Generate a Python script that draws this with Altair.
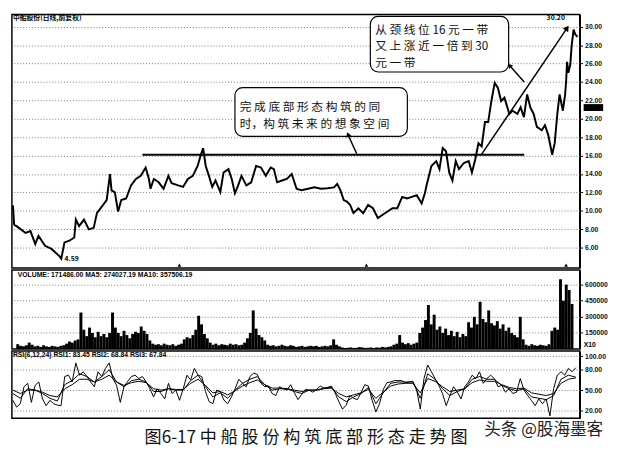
import altair as alt
import pandas as pd

# ---------------- price (day index ~ bar number) ----------------
price_day = [0, 1.3, 6.3, 13, 18, 23, 26.3, 33, 39.7, 48, 49.7, 53, 58, 63, 64.7, 68, 73, 78, 83,
             86.3, 91.3, 96.3, 99.7, 101.3, 104.7, 108, 111.3, 116.3, 121.3, 126.3, 131.3, 136.3,
             139.7, 141.3, 144.7, 149.7, 154.7, 159.7, 163, 169.7, 174.7, 179.7, 184.7, 189.7, 193,
             195.3, 198, 201.3, 204.7, 208, 213, 216.3, 221.3, 224.7, 228, 231.3, 234.7, 239.7,
             244.7, 249.7, 254.7, 259.7, 264.7, 268, 271.3, 276.3, 281.3, 286.3, 291.3, 296.3,
             303, 309.7, 316.3, 323, 329.7, 333, 336.3, 339.7, 343, 346.3, 349.7, 354.7, 359.7,
             364.7, 369.7, 374.7, 379.7, 384.7, 389.7, 394.7, 399.7, 404.7, 409.7, 414.7, 419.7,
             423, 424.7, 429.7, 434.7, 438, 441.3, 444.7, 448, 451.3, 454.7, 458, 463, 468, 471.3,
             474.7, 478, 481.3, 484.7, 488, 491.3, 494.7, 498, 501.3, 504.7, 509.7, 513, 518,
             521.3, 524.7, 528, 531.3, 534.7, 538, 543, 546.3, 549.7, 553.7, 556.3, 559, 561.3,
             564.7, 567, 568, 569, 570.3, 572.3, 573.7, 575.7, 577.3, 579.7]
price_close = [10.6, 8.5, 8.15, 7.6, 7.8, 6.4, 7.27, 6.2, 5.86, 5.05, 4.8, 6.57, 6.75, 7.1, 9.05,
               8.33, 9.05, 7.98, 8.15, 9.75, 10.45, 11.17, 14.0, 12.23, 12.0, 9.93, 11.17, 11.34,
               12.76, 13.46, 13.8, 14.7, 13.46, 12.4, 13.46, 13.1, 12.4, 13.8, 13.0, 12.76, 12.6,
               13.46, 13.8, 14.88, 16.1, 16.8, 14.88, 13.8, 12.6, 13.3, 12.05, 14.17, 14.53,
               13.46, 11.9, 12.76, 13.8, 12.76, 13.1, 14.88, 14.7, 13.8, 14.7, 14.53, 13.1, 13.3,
               13.46, 14.0, 12.4, 12.23, 12.4, 12.55, 12.4, 12.45, 12.55, 12.93, 12.23, 11.17,
               11.0, 10.64, 9.75, 10.28, 9.75, 10.64, 10.28, 9.22, 9.58, 9.93, 10.28, 10.28, 11.52,
               11.34, 11.52, 11.7, 10.81, 11.9, 12.76, 14.88, 15.4, 14.53, 16.82, 16.47, 14.17,
               13.28, 15.4, 14.53, 15.2, 15.4, 14.17, 15.58, 17.35, 17.0, 19.65, 19.65, 21.94,
               23.9, 23.36, 21.94, 22.3, 20.53, 20.88, 20.53, 21.24, 20.18, 22.65, 21.24, 20.53,
               19.12, 18.76, 19.3, 18.23, 16.1, 17.35, 20.53, 22.65, 20.88, 22.65, 24.0, 26.2,
               25.0, 25.9, 27.95, 29.7, 29.2, 28.9]

# ---------------- volume (thousands of shares, one bar per 3 trading days) ----------------
vol_k = [45, 30, 25, 35, 60, 40, 25, 30, 20, 35,
         25, 20, 30, 25, 20, 30, 35, 50, 70, 60,
         80, 90, 340, 180, 120, 200, 150, 110, 160, 120,
         140, 110, 150, 340, 200, 150, 120, 170, 130, 100,
         140, 160, 150, 210, 170, 140, 80, 50, 40, 45,
         35, 50, 40, 35, 45, 30, 40, 50, 90, 110,
         100, 130, 180, 310, 230, 140, 100, 60, 40, 50,
         35, 45, 40, 35, 50, 40, 45, 35, 40, 60,
         100, 150, 360, 190, 130, 110, 80, 40, 30, 35,
         25, 30, 40, 30, 25, 35, 30, 20, 25, 30,
         20, 25, 30, 25, 30, 20, 25, 30, 25, 35,
         90, 40, 25, 15, 10, 12, 15, 10, 12, 18,
         15, 10, 12, 15, 10, 15, 12, 20, 15, 20,
         25, 40, 50, 130, 60, 45, 55, 40, 50, 60,
         150, 200, 270, 410, 230, 320, 180, 210, 150, 190,
         130, 170, 120, 160, 110, 140, 120, 250, 200, 300,
         230, 440, 280, 250, 360, 240, 220, 260, 190, 230,
         170, 200, 150, 130, 110, 300, 90, 40, 30, 45,
         35, 30, 40, 35, 30, 45, 170, 200, 180, 650,
         450, 600, 550, 420]
vol_day = [3 * i for i in range(len(vol_k))]
vol_value = [v * 1000 for v in vol_k]

# ---------------- RSI (RSI1 read every ~3.8 days, RSI2/RSI3 every ~7.6 days) ----------------
rsi1 = [35, 25, 30, 55, 60, 32, 57, 62, 37, 27, 35, 30, 28, 27, 70, 72, 62, 90, 72, 77,
        70, 62, 55, 77, 70, 82, 90, 67, 57, 32, 55, 63, 70, 72, 67, 70, 62, 52, 40, 52,
        45, 37, 60, 45, 50, 35, 52, 72, 65, 82, 72, 70, 48, 33, 30, 50, 48, 35, 30, 40,
        52, 66, 60, 55, 70, 75, 73, 60, 55, 56, 45, 42, 55, 52, 50, 58, 46, 36, 44, 51,
        50, 47, 51, 56, 53, 54, 56, 46, 33, 22, 28, 42, 38, 36, 46, 58, 56, 35, 18, 30,
        51, 61, 62, 64, 64, 64, 61, 62, 63, 51, 22, 67, 87, 77, 67, 57, 45, 27, 42, 55,
        47, 37, 55, 62, 72, 67, 77, 60, 67, 72, 67, 55, 57, 47, 52, 45, 47, 67, 50, 42,
        35, 27, 37, 30, 37, 12, 52, 72, 77, 72, 82, 77, 83]
rsi2 = [45, 38, 52, 50, 45, 38, 34, 58, 64, 74, 70, 62, 70, 80, 62, 55, 64, 66, 62, 48,
        48, 52, 50, 50, 64, 72, 55, 40, 46, 38, 50, 60, 66, 70, 58, 50, 52, 52, 48, 45,
        50, 50, 53, 54, 40, 33, 40, 45, 54, 30, 46, 60, 62, 62, 62, 38, 74, 66, 52, 42,
        48, 52, 66, 70, 66, 66, 57, 52, 49, 52, 40, 38, 36, 42, 66, 72, 69]
rsi3 = [50, 45, 50, 50, 47, 42, 40, 52, 58, 66, 66, 62, 66, 72, 62, 57, 61, 63, 61, 52,
        50, 52, 51, 51, 60, 66, 57, 46, 48, 43, 49, 56, 61, 65, 58, 53, 53, 52, 50, 48,
        50, 50, 52, 53, 45, 40, 43, 46, 51, 38, 47, 56, 59, 60, 60, 46, 67, 63, 55, 48,
        50, 52, 61, 65, 63, 63, 58, 54, 52, 53, 46, 44, 42, 45, 60, 66, 68]
rsi1_day = [i * 578 / (len(rsi1) - 1) for i in range(len(rsi1))]
rsi2_day = [i * 578 / (len(rsi2) - 1) for i in range(len(rsi2))]
rsi3_day = [i * 578 / (len(rsi3) - 1) for i in range(len(rsi3))]

price_ticks = [6, 8, 10, 12, 14, 16, 18, 20, 22, 24, 26, 28, 30]
vol_ticks = [150000, 300000, 450000, 600000]
rsi_ticks = [20, 50, 80, 100]

# annotation content
note1_lines = ["完 成 底 部 形 态 构 筑 的 同", "时，构 筑 未 来 的 想 象 空 间"]
note2_lines = ["从 颈 线 位 16 元 一 带", "又 上 涨 近 一 倍 到 30", "元 一 带"]
caption = "图6-17   中 船 股 份 构 筑 底 部 形 态 走 势 图"
watermark = "头条 @股海墨客"

W = 582
XDOM = [-1, 582]
xs = alt.Scale(domain=XDOM, nice=False, zero=False)
FONT = "Noto Sans CJK SC"

price_df = pd.DataFrame({"day": price_day, "close": price_close})
vol_df = pd.DataFrame({"day": vol_day, "vol": vol_value})
rsi_df = pd.DataFrame({"day": rsi1_day + rsi2_day + rsi3_day, "rsi": rsi1 + rsi2 + rsi3,
                       "s": ["1"] * len(rsi1) + ["2"] * len(rsi2) + ["3"] * len(rsi3)})

def yaxis(vals, fmt):
    return alt.Axis(orient="right", values=vals, format=fmt, title=None, labelFontSize=7,
                    labelFontWeight="bold", labelFont="Arial", labelColor="#111", grid=True,
                    gridDash=[1, 2], gridColor="#777", gridWidth=1, domainColor="#000",
                    domainWidth=1.5, tickSize=3, tickColor="#000", labelPadding=2,
                    labelOverlap=False, labelFlush=False, labelBound=False)

AX_P = yaxis(price_ticks, ".2f")
AX_V = yaxis(vol_ticks, "d")
AX_R = yaxis(rsi_ticks, ".2f")

def X(f):
    return alt.X(f, type="quantitative", scale=xs, axis=None)

def Y(f, sc, ax):
    return alt.Y(f, type="quantitative", scale=sc, axis=ax)

# ---------- main panel ----------
ys = alt.Scale(domain=[3.78, 31.35], nice=False, zero=False)
pline = alt.Chart(price_df).mark_line(color="#000", strokeWidth=2).encode(
    x=X("day"), y=Y("close", ys, AX_P))

neck = alt.Chart(pd.DataFrame({"x": [133], "x2": [525], "y": [16.1]})).mark_rule(
    color="#000", strokeWidth=2).encode(x=X("x"), x2="x2", y=Y("y", ys, AX_P))

trend = alt.Chart(pd.DataFrame({"x": [481], "x2": [569], "y": [16.1], "y2": [29.86]})).mark_rule(
    color="#000", strokeWidth=1.5).encode(x=X("x"), x2="x2", y=Y("y", ys, AX_P), y2="y2")
trend_head = alt.Chart(pd.DataFrame({"x": [569], "y": [29.86]})).mark_point(
    shape="triangle-up", filled=True, color="#000", size=45, angle=34, opacity=1).encode(
    x=X("x"), y=Y("y", ys, AX_P))

boxes = alt.Chart(pd.DataFrame({"x": [228, 367], "x2": [405, 509], "y": [23.39, 31.13],
                                "y2": [18.09, 25.09]})).mark_rect(
    fill="white", stroke="#000", strokeWidth=1.2, cornerRadius=8).encode(
    x=X("x"), x2="x2", y=Y("y", ys, AX_P), y2="y2")

arrows = alt.Chart(pd.DataFrame({"x": [353, 525], "x2": [344, 510], "y": [16.2, 24.0],
                                 "y2": [18.3, 25.8]})).mark_rule(
    color="#000", strokeWidth=1.5).encode(x=X("x"), x2="x2", y=Y("y", ys, AX_P), y2="y2")
arrow_heads = alt.Chart(pd.DataFrame({"x": [344, 510], "y": [18.3, 25.8], "a": [337, 318]})).mark_point(
    shape="triangle-up", filled=True, color="#000", size=30, opacity=1).encode(
    x=X("x"), y=Y("y", ys, AX_P), angle=alt.Angle("a:Q", scale=None))

n1 = alt.Chart(pd.DataFrame({"x": [233, 233], "y": [21.3, 19.45], "t": note1_lines})).mark_text(
    align="left", baseline="middle", font=FONT, fontSize=12, color="#111").encode(
    x=X("x"), y=Y("y", ys, AX_P), text="t:N")
n2 = alt.Chart(pd.DataFrame({"x": [372, 372, 372], "y": [29.65, 27.85, 26.05], "t": note2_lines})).mark_text(
    align="left", baseline="middle", font=FONT, fontSize=12, color="#111").encode(
    x=X("x"), y=Y("y", ys, AX_P), text="t:N")

labels = alt.Chart(pd.DataFrame({"x": [0, 53, 548], "y": [30.95, 4.75, 30.95],
                                 "t": ["中船股份(日线,前复权)", "4.59", "30.20"]})).mark_text(
    align="left", baseline="middle", font=FONT, fontSize=7, fontWeight="bold", color="#000").encode(
    x=X("x"), y=Y("y", ys, AX_P), text="t:N")

marks = alt.Chart(pd.DataFrame({"x": [171, 363, 568], "y": [4.1, 4.1, 4.1]})).mark_point(
    shape="triangle-up", filled=True, color="#000", size=14, opacity=1).encode(
    x=X("x"), y=Y("y", ys, AX_P))

cur_box = alt.Chart(pd.DataFrame({"y": [21.6], "y2": [20.85]})).mark_rect(color="#000").encode(
    x=alt.value(W + 4), x2=alt.value(W + 24), y=Y("y", ys, AX_P), y2="y2")

main = alt.layer(pline, neck, trend, trend_head, boxes, arrows, arrow_heads, n1, n2, labels,
                 marks, cur_box).properties(width=W, height=260)

# ---------- volume panel ----------
vs = alt.Scale(domain=[0, 736000], nice=False, zero=False)
vbars = alt.Chart(vol_df).mark_bar(color="#000", size=3).encode(
    x=X("day"), y=Y("vol", vs, AX_V))
vtext = alt.Chart(pd.DataFrame({"x": [0], "y": [690000],
                                "t": ["VOLUME: 171486.00  MA5: 274027.19  MA10: 357506.19"]})).mark_text(
    align="left", baseline="middle", font="Arial", fontSize=7, fontWeight="bold", color="#000").encode(
    x=X("x"), y=Y("y", vs, AX_V), text="t:N")
x10 = alt.Chart(pd.DataFrame({"y": [40000], "t": ["X10"]})).mark_text(
    align="left", baseline="middle", font="Arial", fontSize=7, fontWeight="bold", color="#000").encode(
    x=alt.value(W + 4), y=Y("y", vs, AX_V), text="t:N")
vol = alt.layer(vbars, vtext, x10).properties(width=W, height=81)

# ---------- RSI panel ----------
rs = alt.Scale(domain=[8.5, 107.6], nice=False, zero=False)
rlines = alt.Chart(rsi_df).mark_line(color="#000", strokeWidth=1).encode(
    x=X("day"), y=Y("rsi", rs, AX_R), detail="s:N")
rtext = alt.Chart(pd.DataFrame({"x": [0], "y": [102],
                                "t": ["RSI(6,12,24)  RSI1: 83.45  RSI2: 68.84  RSI3: 67.84"]})).mark_text(
    align="left", baseline="middle", font="Arial", fontSize=7, fontWeight="bold", color="#000").encode(
    x=X("x"), y=Y("y", rs, AX_R), text="t:N")
wm = alt.Chart(pd.DataFrame({"x": [484], "y": [-8.7], "t": [watermark]})).mark_text(
    align="left", baseline="middle", font=FONT, fontSize=17, color="#222").encode(
    x=X("x"), y=Y("y", rs, AX_R), text="t:N")
cap = alt.Chart(pd.DataFrame({"x": [301], "y": [-20.2], "t": [caption]})).mark_text(
    align="center", baseline="middle", font=FONT, fontSize=17.5, color="#111").encode(
    x=X("x"), y=Y("y", rs, AX_R), text="t:N")
rsi = alt.layer(rlines, rtext, wm, cap).properties(width=W, height=69)

chart = alt.vconcat(main, vol, rsi, spacing=0).properties(
    padding={"left": 0, "top": 0, "right": 0, "bottom": 0}
).configure_view(stroke="#000", strokeWidth=1.5).configure_concat(spacing=0)

chart.save("out.html", embed_options={"renderer": "svg", "actions": False})
